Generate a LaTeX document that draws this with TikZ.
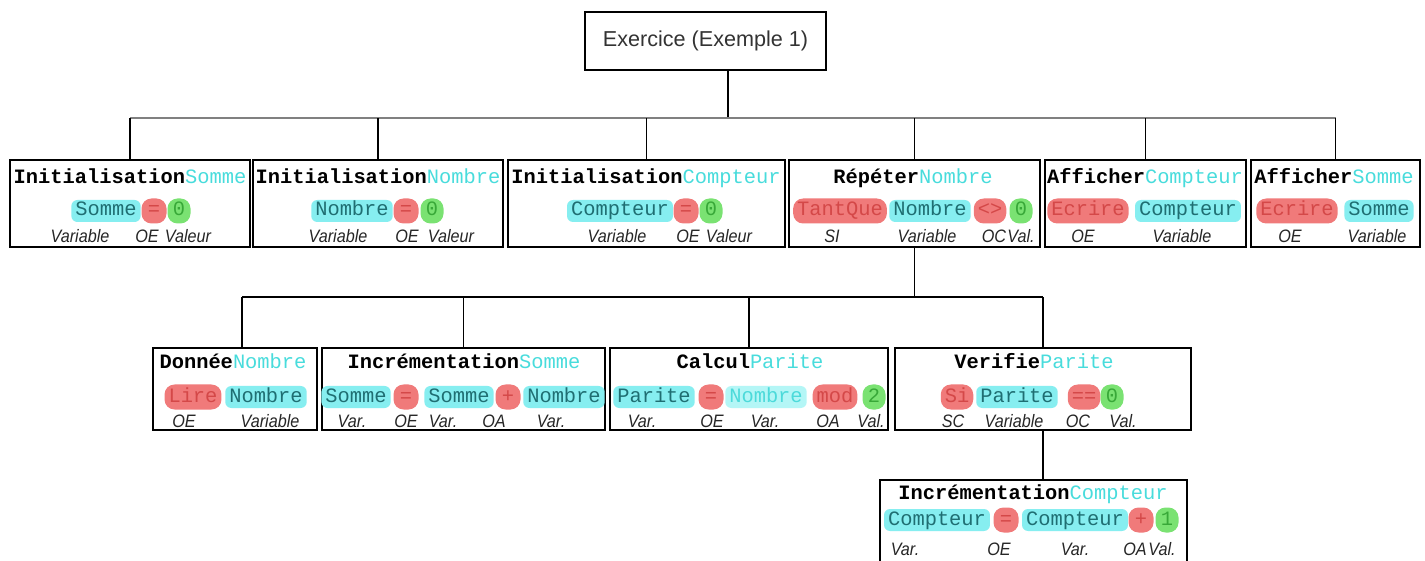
\documentclass[tikz,border=0pt]{standalone}
\usepackage{fontspec}
\newfontfamily\monof{Liberation Mono}
\newfontfamily\labf[FakeStretch=0.9]{Liberation Sans}
\newfontfamily\sansf{Liberation Sans}
\newcommand\ttlfont{\monof\fontsize{10.2pt}{12pt}\selectfont\bfseries}
\newcommand\pillfont{\monof\fontsize{10.2pt}{12pt}\selectfont}
\newcommand\labfont{\labf\itshape\fontsize{9pt}{10pt}\selectfont}
\newcommand\tc[1]{{\mdseries\color{ttlcy}#1}}
\definecolor{pcy}{HTML}{86EEF0}
\definecolor{tcy}{HTML}{1F6E72}
\definecolor{ttlcy}{HTML}{48DCDC}
\definecolor{prd}{HTML}{F07A7A}
\definecolor{trd}{HTML}{D44848}
\definecolor{pgr}{HTML}{7AE272}
\definecolor{tgr}{HTML}{38A838}
\definecolor{pcy2}{HTML}{B4F6F6}
\definecolor{tcy2}{HTML}{4CDADA}
\tikzset{
  box/.style={draw=black, line width=1pt, inner sep=0pt},
  conn/.style={draw=black, line width=0.8pt},
  busline/.style={draw=gray, line width=1pt},
  pill/.style={inner xsep=2pt, inner ysep=1pt, text height=7pt, text depth=2pt, minimum height=11pt, font=\pillfont},
  cy/.style={pill, fill=pcy, text=tcy, rounded corners=3pt},
  cyp/.style={pill, fill=pcy2, text=tcy2, rounded corners=3pt},
  rd/.style={pill, fill=prd, text=trd, rounded corners=5pt, minimum width=12.5pt, minimum height=12.5pt},
  gr/.style={pill, fill=pgr, text=tgr, rounded corners=5pt, minimum width=11.5pt, minimum height=12.5pt},
  lb/.style={font=\labfont, text=black!85, inner sep=0pt, text height=6.5pt, text depth=0pt},
  ttl/.style={font=\ttlfont, inner sep=0pt, text height=6pt, text depth=0pt},
}
\begin{document}
\begin{tikzpicture}[x=0.5pt,y=-0.5pt]
\useasboundingbox (0,0) rectangle (1425,561);
\clip (0,0) rectangle (1425,561);
\fill[white] (0,0) rectangle (1425,561);

% boxes
\node[box, minimum width=120.5pt, minimum height=29pt, font=\sansf\fontsize{10.8pt}{12pt}\selectfont, text=black!80] (root) at (705.5,41) {Exercice (Exemple 1)};
\node[box, minimum width=120pt, minimum height=43.5pt] (A1) at (130,203.5) {};
\node[box, minimum width=125pt, minimum height=43.5pt] (A2) at (378,203.5) {};
\node[box, minimum width=138.5pt, minimum height=43.5pt] (A3) at (646.5,203.5) {};
\node[box, minimum width=125.5pt, minimum height=43.5pt] (A4) at (914.5,203.5) {};
\node[box, minimum width=100.5pt, minimum height=43.5pt] (A5) at (1145.5,203.5) {};
\node[box, minimum width=84.5pt, minimum height=43.5pt] (A6) at (1335.5,203.5) {};
\node[box, minimum width=82pt, minimum height=41pt] (B1) at (235,389) {};
\node[box, minimum width=141.5pt, minimum height=41pt] (B2) at (463.5,389) {};
\node[box, minimum width=139pt, minimum height=41pt] (B3) at (749,389) {};
\node[box, minimum width=148pt, minimum height=41pt] (B4) at (1043,389) {};
\node[box, minimum width=153.5pt, minimum height=60pt] (C1) at (1033.5,540) {};

% connectors
\coordinate (bus1) at (728,118);
\coordinate (bus2) at (914.5,297);
\draw[conn] (root.south -| bus1) -- (bus1);
\draw[busline] (A1.north |- bus1) -- (A6.north |- bus1);
\foreach \n in {A1,A2,A3,A4,A5,A6} \draw[conn] (\n.north) -- (\n.north |- bus1);
\draw[conn] (A4.south) -- (bus2);
\draw[conn] ([xshift=3.5pt]B1.north |- bus2) -- (B4.north |- bus2);
\draw[conn] ([xshift=3.5pt]B1.north) -- ([xshift=3.5pt]B1.north |- bus2);
\foreach \n in {B2,B3,B4} \draw[conn] (\n.north) -- (\n.north |- bus2);
\draw[conn] (B4.south) -- (B4.south |- C1.north);

% A1
\node[ttl] (a1t) at (130,178) {Initialisation\tc{Somme}};
\node[cy] (a1p1) at (106,211) {Somme};
\node[rd] (a1p2) at (154,211) {=};
\node[gr] (a1p3) at (179,211) {0};
\node[lb] (a1l1) at (80,236) {Variable};
\node[lb] (a1l2) at (147,236) {OE};
\node[lb] (a1l3) at (188,236) {Valeur};
% A2
\node[ttl] (a2t) at (378,178) {Initialisation\tc{Nombre}};
\node[cy] (a2p1) at (352,211) {Nombre};
\node[rd] (a2p2) at (406,211) {=};
\node[gr] (a2p3) at (432,211) {0};
\node[lb] (a2l1) at (338,236) {Variable};
\node[lb] (a2l2) at (407,236) {OE};
\node[lb] (a2l3) at (451,236) {Valeur};
% A3
\node[ttl] (a3t) at (646,178) {Initialisation\tc{Compteur}};
\node[cy] (a3p1) at (620,211) {Compteur};
\node[rd] (a3p2) at (686,211) {=};
\node[gr] (a3p3) at (711,211) {0};
\node[lb] (a3l1) at (617,236) {Variable};
\node[lb] (a3l2) at (688,236) {OE};
\node[lb] (a3l3) at (729,236) {Valeur};
% A4
\node[ttl] (a4t) at (913,178) {Répéter\tc{Nombre}};
\node[rd] (a4p1) at (840,211) {TantQue};
\node[cy] (a4p2) at (930,211) {Nombre};
\node[rd] (a4p3) at (990,211) {<>};
\node[gr] (a4p4) at (1021,211) {0};
\node[lb] (a4l1) at (832,236) {SI};
\node[lb] (a4l2) at (927,236) {Variable};
\node[lb] (a4l3) at (994,236) {OC};
\node[lb] (a4l4) at (1021,236) {Val.};
% A5
\node[ttl] (a5t) at (1145,178) {Afficher\tc{Compteur}};
\node[rd] (a5p1) at (1088,211) {Ecrire};
\node[cy] (a5p2) at (1188,211) {Compteur};
\node[lb] (a5l1) at (1083,236) {OE};
\node[lb] (a5l2) at (1182,236) {Variable};
% A6
\node[ttl] (a6t) at (1334,178) {Afficher\tc{Somme}};
\node[rd] (a6p1) at (1297,211) {Ecrire};
\node[cy] (a6p2) at (1379,211) {Somme};
\node[lb] (a6l1) at (1290,236) {OE};
\node[lb] (a6l2) at (1377,236) {Variable};

% B1
\node[ttl] (b1t) at (233,363) {Donnée\tc{Nombre}};
\node[rd] (b1p1) at (193,397) {Lire};
\node[cy] (b1p2) at (266,397) {Nombre};
\node[lb] (b1l1) at (184,421) {OE};
\node[lb] (b1l2) at (270,421) {Variable};
% B2
\node[ttl] (b2t) at (464,363) {Incrémentation\tc{Somme}};
\node[cy] (b2p1) at (356,397) {Somme};
\node[rd] (b2p2) at (406,397) {=};
\node[cy] (b2p3) at (459,397) {Somme};
\node[rd] (b2p4) at (508,397) {+};
\node[cy] (b2p5) at (564,397) {Nombre};
\node[lb] (b2l1) at (352,421) {Var.};
\node[lb] (b2l2) at (406,421) {OE};
\node[lb] (b2l3) at (443,421) {Var.};
\node[lb] (b2l4) at (494,421) {OA};
\node[lb] (b2l5) at (551,421) {Var.};
% B3
\node[ttl] (b3t) at (750,363) {Calcul\tc{Parite}};
\node[cy] (b3p1) at (654,397) {Parite};
\node[rd] (b3p2) at (711,397) {=};
\node[cyp] (b3p3) at (766,397) {Nombre};
\node[rd] (b3p4) at (835,397) {mod};
\node[gr] (b3p5) at (874,397) {2};
\node[lb] (b3l1) at (642,421) {Var.};
\node[lb] (b3l2) at (712,421) {OE};
\node[lb] (b3l3) at (765,421) {Var.};
\node[lb] (b3l4) at (828,421) {OA};
\node[lb] (b3l5) at (871,421) {Val.};
% B4
\node[ttl] (b4t) at (1034,363) {Verifie\tc{Parite}};
\node[rd] (b4p1) at (957,397) {Si};
\node[cy] (b4p2) at (1017,397) {Parite};
\node[rd] (b4p3) at (1084,397) {==};
\node[gr] (b4p4) at (1112,397) {0};
\node[lb] (b4l1) at (953,421) {SC};
\node[lb] (b4l2) at (1014,421) {Variable};
\node[lb] (b4l3) at (1078,421) {OC};
\node[lb] (b4l4) at (1123,421) {Val.};

% C1
\node[ttl] (c1t) at (1033,493) {Incrémentation\tc{Compteur}};
\node[cy] (c1p1) at (937,520) {Compteur};
\node[rd] (c1p2) at (1006,520) {=};
\node[cy] (c1p3) at (1075,520) {Compteur};
\node[rd] (c1p4) at (1141,520) {+};
\node[gr] (c1p5) at (1167,520) {1};
\node[lb] (c1l1) at (905,549) {Var.};
\node[lb] (c1l2) at (999,549) {OE};
\node[lb] (c1l3) at (1075,549) {Var.};
\node[lb] (c1l4) at (1135,549) {OA};
\node[lb] (c1l5) at (1162,549) {Val.};
\end{tikzpicture}
\end{document}
